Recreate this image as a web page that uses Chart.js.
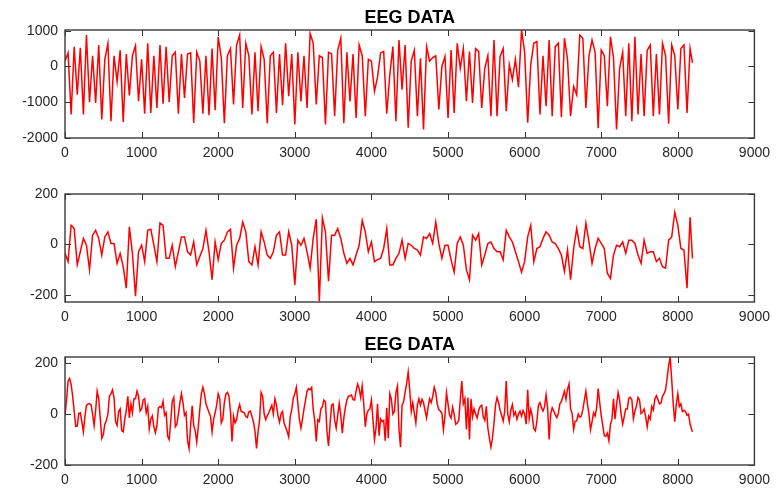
<!DOCTYPE html>
<html>
<head>
<meta charset="utf-8">
<script src="https://cdn.jsdelivr.net/npm/chart.js@4.4.1/dist/chart.umd.min.js"></script>
<style>
  body { margin: 0; background: #fff; }
  #wrap { position: relative; width: 777px; height: 488px; }
  canvas { position: absolute; left: 0; }
</style>
</head>
<body>
<div id="wrap">
  <canvas id="c1" width="777" height="164" style="top:0px"></canvas>
  <canvas id="c2" width="777" height="163" style="top:164px"></canvas>
  <canvas id="c3" width="777" height="161" style="top:327px"></canvas>
</div>
<script>
// values every STEP samples, last one at the end of the record
const STEP1 = 40
const STEP2 = 40
const STEP3 = 20
const LAST = 8191

const xTicks = [0, 1000, 2000, 3000, 4000, 5000, 6000, 7000, 8000, 9000]
const yTicks1 = [-2000, -1000, 0, 1000]
const yTicks2 = [-200, 0, 200]
const yTicks3 = [-200, 0, 200]

const eeg1 = [
    150, 380, -1340, 550, -790, 520, -1340, 880, -1000, 300,
    -1020, 600, -1480, 200, 640, -1530, 300, -420, 450, -1550,
    350, -810, 300, 580, -970, 200, -1320, 650, -1300, 300,
    -1160, 600, -1040, 550, -1000, 300, 400, -1320, 350, -880,
    350, 380, -1580, 400, 150, -1320, 300, -1360, 500, -1220,
    830, 250, -1590, 300, 500, -1060, 600, 880, -1160, 650,
    300, -1340, 400, -1250, 555, 200, -1590, 300, 400, -1300,
    350, -1080, 650, -830, 350, -1620, 400, -975, 300, -1160,
    925, 650, -1060, 300, 250, -1620, 400, 350, -1390, 450,
    790, -1590, 400, -975, 350, -1440, 600, 300, -1390, 200,
    150, -690, -300, 380, 420, -1320, -230, 555, -1530, 740,
    -650, 600, -1710, 150, 450, -1390, 230, -1760, 555, 150,
    250, 300, -1200, 0, 280, -1440, 460, -1300, 650, -50,
    500, -970, 420, -1020, 500, 420, -1160, -50, 300, -1390,
    740, -1390, 280, 500, -1250, 50, -370, 200, -580, 1020,
    400, -1570, 50, 650, 700, -1340, 300, -1110, 740, -1390,
    555, 650, -1420, 790, 200, -1390, -560, -790, 880, 790,
    -1160, 300, 740, 400, -1730, 460, 300, -1110, 830, 250,
    -1760, -50, 400, -1390, 650, -1530, 830, -1340, 350, -1390,
    450, 600, -1390, 350, -1340, 650, 300, -1600, 600, 300,
    -1200, 500, 600, -1300, 500, 100
]

const eeg2 = [
    -35, -68, 76, 63, -80, -29, 24, -3, -100, 37,
    56, 24, -42, 30, 50, 4, 4, -75, -35, -88,
    -173, 70, -35, -205, -29, -3, -68, 56, 60, -3,
    -68, 85, 76, -55, -55, -3, -88, -29, 30, 30,
    -29, -42, 10, -80, -48, -16, 56, -29, -140, 10,
    -61, 4, 17, 50, 60, -94, -3, 24, 89, 50,
    -68, -81, -9, -81, 50, 10, -42, -55, -29, 37,
    50, -42, -42, 50, -3, -160, 17, -3, 24, -29,
    -94, 24, 100, -225, 105, 50, -146, 37, 37, 63,
    24, -35, -75, -55, -81, -42, -3, 95, 50, -29,
    10, -68, -60, -55, -16, 63, -81, -81, -55, -35,
    17, -55, 4, -3, -16, -22, -42, 30, 24, 43,
    4, 89, 4, -55, -3, -3, -61, -110, 4, 30,
    -3, -100, -140, 37, 17, 43, -81, -42, 4, 10,
    -16, -29, -29, -61, 56, 30, 10, -29, -68, -110,
    -68, 30, 76, -68, -16, -9, 24, 50, 37, 10,
    4, -16, -42, -107, -22, -140, -16, 63, -9, -16,
    85, 10, -75, -16, 24, 4, -16, -114, -135, -42,
    -3, -9, 10, -35, 17, 17, 4, -42, -75, 17,
    -35, -29, -29, -68, -55, -88, -94, 17, 30, 128,
    76, -16, -22, -173, 108, -55
]

const eeg3 = [
    -5, 55, 130, 140, 116, 70, 10, -48, -47, 2,
    5, -30, -70, -10, 34, 40, 41, 36, 0, -45,
    15, 90, 60, -15, -95, -80, -40, -25, 0, 70,
    80, 95, 65, -30, -45, 10, 20, -65, -70, -20,
    15, 70, -15, 40, 5, 60, 60, 90, 70, 12,
    20, 55, 60, 5, 30, -58, -20, -7, -50, -73,
    -45, 25, 30, 25, 50, -5, 5, -87, -100, -30,
    50, 65, -50, -40, 0, 45, 80, 45, -5, 5,
    -105, -135, -44, 32, -45, -66, -110, -50, 20, 80,
    105, 80, 40, 23, 6, -10, -70, -20, 5, 35,
    80, 60, -35, -20, 45, 78, 85, 70, 10, -108,
    -8, -35, -22, 15, 37, 10, 8, 5, -10, -14,
    9, 12, -8, -31, -68, -135, -70, -25, 85, 70,
    0, -22, -7, 5, 20, 35, 0, 60, 36, -7,
    -32, 0, 10, -35, -52, -68, -90, -10, 17, 62,
    80, 105, 40, -20, -55, -20, 20, 55, 90, 100,
    95, 105, 20, -25, -108, -22, -29, 20, 29, 55,
    48, -70, -125, -40, 35, 40, -24, -55, -5, 42,
    -5, -75, -15, 25, 55, 70, 72, 75, 57, 55,
    90, 118, 100, 65, 110, 40, -50, 0, 15, 20,
    55, -20, -100, -55, 40, -85, -20, -30, -25, -105,
    25, -95, 80, 60, 0, 10, 85, 110, -60, -130,
    35, 48, 85, 120, 165, 95, 10, 45, 5, -35,
    35, 60, 35, 58, 45, 14, -15, 27, 60, 45,
    68, 105, 85, 38, 17, 12, 3, -62, -8, 84,
    40, -5, -16, 27, 0, -40, -35, -25, 55, 130,
    40, 60, -60, 65, -100, 60, -10, 20, 0, -15,
    14, 30, 35, -10, -25, 30, -55, -95, -130, -95,
    -35, 35, 65, 45, 15, -5, -28, 10, 130, 0,
    -30, 15, 37, -5, 8, -20, 0, 12, -8, 14,
    0, -40, 95, -18, 18, -8, -58, -66, -30, 35,
    45, 25, 12, 28, 75, 25, -100, 0, 25, 12,
    -2, -14, 2, 40, 50, 70, 90, 58, 98, 118,
    20, 2, -60, -28, -27, 0, -12, -8, 17, 55,
    90, 40, 0, -62, -31, 5, -8, 25, 100, 45,
    -5, -45, -85, -87, -75, -105, -42, -20, 60, -20,
    35, 85, 55, 0, -40, -10, 20, 20, 62, 66,
    55, -18, 12, 32, 65, 55, 2, 8, 20, -10,
    -50, -8, -20, 30, 16, 58, 72, 57, 40, 43,
    70, 80, 95, 140, 190, 222, 135, 40, -30, 38,
    80, 30, 40, 10, 15, 10, -5, 0, -40, -60,
    -70
]

const FONT = '"Liberation Sans", Arial, Helvetica, sans-serif'
const TICK_COLOR = '#262626'

// caja estilo matlab, con marcas hacia dentro en los cuatro lados
const axesBox = {
    id: 'axesBox',
    afterDatasetsDraw(chart) {
        const { ctx, chartArea: a, scales } = chart
        ctx.save()
        ctx.strokeStyle = '#333'
        ctx.lineWidth = 1
        ctx.beginPath()
        scales.x.ticks.forEach(t => {
            const p = Math.round(scales.x.getPixelForValue(t.value)) + 0.5
            ctx.moveTo(p, a.bottom); ctx.lineTo(p, a.bottom - 6)
            ctx.moveTo(p, a.top); ctx.lineTo(p, a.top + 6)
        })
        scales.y.ticks.forEach(t => {
            const p = Math.round(scales.y.getPixelForValue(t.value)) + 0.5
            ctx.moveTo(a.left, p); ctx.lineTo(a.left + 6, p)
            ctx.moveTo(a.right, p); ctx.lineTo(a.right - 6, p)
        })
        ctx.stroke()
        ctx.lineWidth = 1.4
        ctx.strokeStyle = '#3a3a3a'
        ctx.strokeRect(a.left, a.top, a.width, a.height)
        ctx.restore()
    }
}

const dibujar = (id, valores, paso, yTicks, yMin, yMax, titulo) => {
    const canvas = document.getElementById(id)
    const alto = canvas.height
    const puntos = valores.map((v, i) => ({ x: Math.min(i * paso, LAST), y: v }))
    new Chart(canvas, {
        type: 'line',
        data: {
            datasets: [{
                data: puntos,
                borderColor: '#ff0000',
                borderWidth: 1.5,
                pointRadius: 0,
                tension: 0,
                fill: false
            }]
        },
        options: {
            responsive: false,
            animation: false,
            events: [],
            layout: { padding: { top: titulo ? 0 : 30, right: 20, left: 0, bottom: 0 } },
            plugins: {
                legend: { display: false },
                tooltip: { enabled: false },
                title: {
                    display: !!titulo,
                    text: titulo,
                    fullSize: false,
                    color: '#000',
                    font: { family: FONT, size: 18, weight: 'bold' },
                    padding: { top: 7, bottom: 1.4 }
                }
            },
            scales: {
                x: {
                    type: 'linear',
                    min: 0,
                    max: 9000,
                    grid: { display: false, drawTicks: false },
                    border: { display: false },
                    afterBuildTicks: s => { s.ticks = xTicks.map(v => ({ value: v })) },
                    afterFit: s => { s.height = alto - 138 },
                    ticks: {
                        color: TICK_COLOR,
                        font: { family: FONT, size: 14 },
                        padding: 7,
                        maxRotation: 0,
                        autoSkip: false,
                        callback: v => String(v)
                    }
                },
                y: {
                    type: 'linear',
                    min: yMin,
                    max: yMax,
                    grid: { display: false, drawTicks: false },
                    border: { display: false },
                    afterBuildTicks: s => { s.ticks = yTicks.map(v => ({ value: v })) },
                    afterFit: s => { s.width = 65 },
                    ticks: {
                        color: TICK_COLOR,
                        font: { family: FONT, size: 14 },
                        padding: 7,
                        autoSkip: false,
                        callback: v => String(v)
                    }
                }
            }
        },
        plugins: [axesBox]
    })
}

dibujar('c1', eeg1, STEP1, yTicks1, -2000, 1020, 'EEG DATA')
dibujar('c2', eeg2, STEP2, yTicks2, -228, 200, '')
dibujar('c3', eeg3, STEP3, yTicks3, -200, 224, 'EEG DATA')
</script>
</body>
</html>
